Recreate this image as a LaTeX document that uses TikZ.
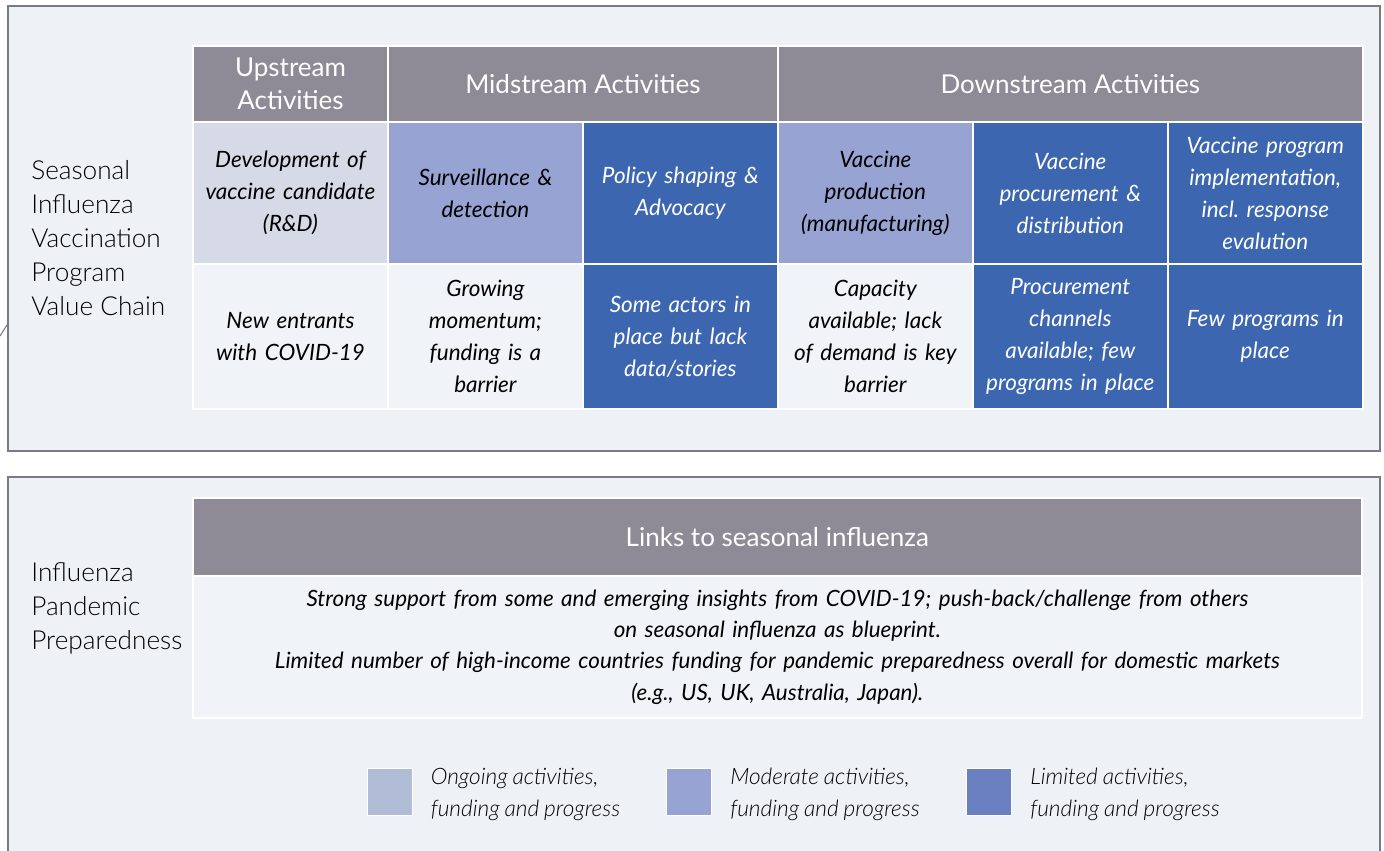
\documentclass[tikz,border=0pt]{standalone}
\usepackage{fontspec}
\setmainfont{Lato}[ItalicFeatures={WordSpace=0.8}]
\newfontfamily\lightfont{Lato Light}[ItalicFeatures={WordSpace=0.85}]
\usetikzlibrary{positioning}
\frenchspacing

\definecolor{panelbg}{HTML}{EEF2F6}
\definecolor{panelline}{HTML}{7B7A84}
\definecolor{headgray}{HTML}{8E8B96}
\definecolor{devfill}{HTML}{D6DAE6}
\definecolor{modfill}{HTML}{96A3D3}
\definecolor{bluefill}{HTML}{3D66B1}
\definecolor{plainfill}{HTML}{F0F3F7}
\definecolor{ongoingkey}{HTML}{B1BCD6}
\definecolor{moderatekey}{HTML}{97A4D3}
\definecolor{limitedkey}{HTML}{6B80C0}

\tikzset{
  panel/.style = {draw=panelline, line width=1.3pt, fill=panelbg},
  headbox/.style = {fill=headgray, draw=white, line width=1pt, text=white,
    inner sep=0pt, outer sep=0pt, align=center,
    font=\fontsize{14.8}{18.7}\selectfont},
  cell/.style = {draw=white, line width=1pt, inner sep=0pt, outer sep=0pt,
    minimum width=3.9cm, text width=3.7cm, align=center,
    font=\itshape\fontsize{12.8}{18.2}\selectfont},
  rowtwo/.style = {cell, minimum height=2.84cm},
  rowthree/.style = {cell, minimum height=2.9cm},
  dev/.style = {fill=devfill},
  moderate/.style = {fill=modfill},
  limited/.style = {fill=bluefill, text=white},
  plain/.style = {fill=plainfill},
  sidelabel/.style = {align=left, inner sep=0pt,
    font=\lightfont\fontsize{14.9}{19.3}\selectfont},
  key/.style = {draw=white, line width=0.5pt, minimum width=0.9cm,
    minimum height=0.94cm, inner sep=0pt},
  keytext/.style = {align=left, inner sep=0pt, yshift=-0.06cm,
    font=\lightfont\itshape\fontsize{12.9}{18.2}\selectfont},
}

\begin{document}
\begin{tikzpicture}[x=0.02cm, y=-0.02cm]
\clip (0,0) rectangle (1384,850);
\fill[white] (0,0) rectangle (1384,850);

% stub of a bracket left of the panels
\draw[panelline, line width=0.6pt] (0,336) -- (7,325);

% panels
\draw[panel] (8,6) rectangle (1380,451);
\draw[panel] (8,477) rectangle (1380,880);

% value chain table
\node[headbox, minimum width=3.9cm, minimum height=1.52cm, anchor=north west] (up) at (193,46) {Upstream\\Activities};
\node[headbox, minimum width=7.8cm, minimum height=1.52cm, right=0pt of up] (mid) {Midstream Activities};
\node[headbox, minimum width=11.7cm, minimum height=1.52cm, right=0pt of mid] (down) {Downstream Activities};

\node[rowtwo, dev, below=0pt of up] (rd) {Development of\\vaccine candidate\\(R\&D)};
\node[rowtwo, moderate, right=0pt of rd] (surv) {Surveillance \&\\detection};
\node[rowtwo, limited, right=0pt of surv] (policy) {Policy shaping \&\\Advocacy};
\node[rowtwo, moderate, right=0pt of policy] (prod) {Vaccine\\production\\(manufacturing)};
\node[rowtwo, limited, right=0pt of prod] (procure) {Vaccine\\procurement \&\\distribution};
\node[rowtwo, limited, right=0pt of procure] (impl) {Vaccine program\\implementation,\\incl. response\\evalution};

\node[rowthree, plain, below=0pt of rd] (entrants) {New entrants\\with COVID-19};
\node[rowthree, plain, right=0pt of entrants] (momentum) {Growing\\momentum;\\funding is a\\barrier};
\node[rowthree, limited, right=0pt of momentum] (actors) {Some actors in\\place but lack\\data/stories};
\node[rowthree, plain, right=0pt of actors] (capacity) {Capacity\\available; lack\\of demand is key\\barrier};
\node[rowthree, limited, right=0pt of capacity] (channels) {Procurement\\channels\\available; few\\programs in place};
\node[rowthree, limited, right=0pt of channels] (fewprog) {Few programs in\\place};

\node[sidelabel, anchor=west] (seasonal) at (31,238) {Seasonal\\Influenza\\Vaccination\\Program\\Value Chain};

% pandemic preparedness
\node[headbox, minimum width=23.38cm, minimum height=1.56cm, anchor=north west] (links) at (193,498) {Links to seasonal influenza};
\node[cell, plain, minimum width=23.38cm, minimum height=2.84cm, text width=22.8cm, font=\itshape\fontsize{12.75}{17.9}\selectfont, below=0pt of links] (insights)
  {Strong support from some and emerging insights from COVID-19; push-back/challenge from others\\
   on seasonal influenza as blueprint.\\
   Limited number of high-income countries funding for pandemic preparedness overall for domestic markets\\
   (e.g., US, UK, Australia, Japan).};

\node[sidelabel, anchor=west] (pandemic) at (31,608) {Influenza\\Pandemic\\Preparedness};

% legend
\node[key, fill=ongoingkey] (k1) at (389.5,791.5) {};
\node[keytext, right=0.36cm of k1] (t1) {Ongoing activities,\\funding and progress};
\node[key, fill=moderatekey] (k2) at (689,791.5) {};
\node[keytext, right=0.36cm of k2] (t2) {Moderate activities,\\funding and progress};
\node[key, fill=limitedkey] (k3) at (989,791.5) {};
\node[keytext, right=0.36cm of k3] (t3) {Limited activities,\\funding and progress};
\end{tikzpicture}
\end{document}
